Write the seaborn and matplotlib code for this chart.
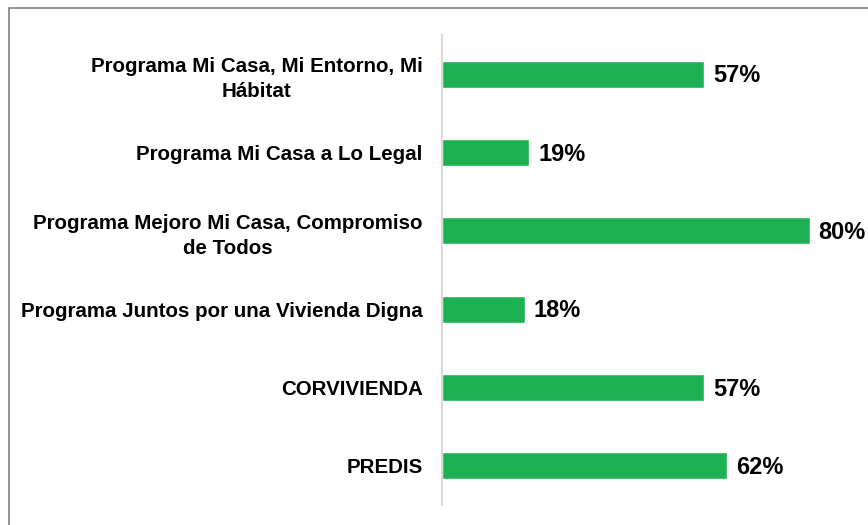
import matplotlib
matplotlib.use("Agg")
import matplotlib.pyplot as plt
import matplotlib.patches as patches
import seaborn as sns
import pandas as pd

programas = [
    "Programa Mi Casa, Mi Entorno, Mi\nHábitat",
    "Programa Mi Casa a Lo Legal",
    "Programa Mejoro Mi Casa, Compromiso\nde Todos",
    "Programa Juntos por una Vivienda Digna",
    "CORVIVIENDA",
    "PREDIS",
]
porcentajes = [57, 19, 80, 18, 57, 62]

df = pd.DataFrame({"programa": programas, "pct": porcentajes})

sns.set_style("white")
plt.rcParams["font.family"] = ["Liberation Sans", "DejaVu Sans"]

fig = plt.figure(figsize=(8.68, 5.25), dpi=100)
ax = fig.add_axes([442 / 868, 20 / 525, 426 / 868, 470 / 525])

sns.barplot(data=df, x="pct", y="programa", orient="h", color="#1DB153",
            saturation=1, width=0.345, ax=ax)

ax.set_xlim(0, 426 / 4.6)
ax.set_ylim(5.5, -0.5)
ax.set_xlabel("")
ax.set_ylabel("")
ax.set_xticks([])
ax.tick_params(axis="y", length=0, pad=14)
for lbl in ax.get_yticklabels():
    lbl.set_fontsize(14.8)
    lbl.set_fontweight("bold")
    lbl.set_color("black")
    lbl.set_multialignment("center")
    lbl.set_linespacing(1.4)

for s in ["top", "right", "bottom"]:
    ax.spines[s].set_visible(False)
ax.spines["left"].set_color("#D9D9D9")
ax.spines["left"].set_linewidth(1.5)

for i, v in enumerate(porcentajes):
    ax.text(v + 1.9, i + 0.02, f"{v}%", va="center", ha="left",
            fontsize=17, fontweight="bold", color="black")

fig.patches.append(patches.Rectangle((9 / 868, -0.5), 2, 1 - 8 / 525 + 0.5,
                                     transform=fig.transFigure, fill=False,
                                     edgecolor="#808080", linewidth=1.2))

fig.savefig("out.png", dpi=100)
